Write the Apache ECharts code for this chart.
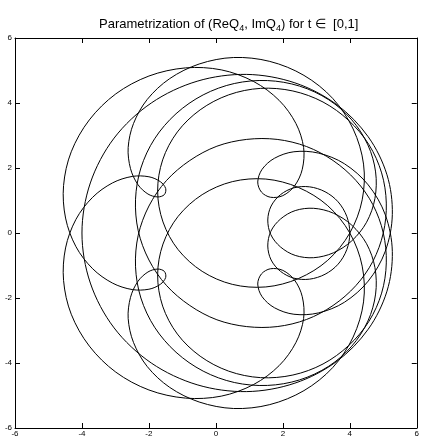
<!DOCTYPE html>
<html>
<head>
<meta charset="utf-8">
<script src="https://cdn.jsdelivr.net/npm/echarts@6/dist/echarts.min.js"></script>
<style>
html,body{margin:0;padding:0;background:#fff;}
#chart{width:422px;height:438px;}
</style>
</head>
<body>
<div id="chart"></div>
<script>
// (ReQ4, ImQ4) for t = 0 .. 0.5, one point every 1/240
var reFirst = [4.00, 3.91, 3.65, 3.26, 2.80, 2.33, 1.93, 1.65, 1.55, 1.64,
  1.93, 2.37, 2.92, 3.51, 4.06, 4.50, 4.75, 4.77, 4.54, 4.06,
  3.37, 2.50, 1.54, 0.55, -0.38, -1.19, -1.83, -2.24, -2.40, -2.32,
  -2.00, -1.48, -0.78, 0.03, 0.92, 1.83, 2.71, 3.50, 4.18, 4.69,
  5.00, 5.09, 4.95, 4.57, 3.97, 3.20, 2.30, 1.33, 0.38, -0.47,
  -1.15, -1.59, -1.74, -1.58, -1.13, -0.41, 0.49, 1.49, 2.47, 3.34,
  4.00, 4.37, 4.41, 4.10, 3.49, 2.63, 1.61, 0.53, -0.50, -1.38,
  -2.05, -2.46, -2.62, -2.55, -2.33, -2.03, -1.74, -1.54, -1.50, -1.66,
  -2.00, -2.50, -3.09, -3.68, -4.18, -4.49, -4.55, -4.32, -3.78, -2.99,
  -2.00, -0.91, 0.16, 1.13, 1.89, 2.39, 2.62, 2.58, 2.35, 2.00,
  1.63, 1.36, 1.25, 1.38, 1.75, 2.33, 3.06, 3.84, 4.55, 5.06,
  5.27, 5.11, 4.55, 3.61, 2.36, 0.92, -0.56, -1.93, -3.04, -3.75,
  -4.00];
var imFirst = [0.00, 0.51, 0.96, 1.27, 1.42, 1.39, 1.18, 0.83, 0.40, -0.05,
  -0.43, -0.69, -0.76, -0.61, -0.24, 0.33, 1.06, 1.88, 2.71, 3.48,
  4.10, 4.52, 4.69, 4.60, 4.25, 3.67, 2.90, 2.00, 1.04, 0.07,
  -0.83, -1.61, -2.23, -2.67, -2.88, -2.88, -2.66, -2.23, -1.62, -0.87,
  0.00, 0.92, 1.85, 2.72, 3.46, 4.03, 4.37, 4.45, 4.25, 3.79,
  3.11, 2.25, 1.29, 0.34, -0.51, -1.18, -1.58, -1.66, -1.40, -0.84,
  0.00, 1.02, 2.12, 3.20, 4.14, 4.85, 5.28, 5.40, 5.20, 4.75,
  4.11, 3.37, 2.63, 1.98, 1.49, 1.20, 1.11, 1.18, 1.37, 1.58,
  1.73, 1.74, 1.54, 1.10, 0.42, -0.46, -1.46, -2.50, -3.48, -4.28,
  -4.83, -5.08, -5.02, -4.66, -4.08, -3.37, -2.63, -1.96, -1.45, -1.15,
  -1.10, -1.26, -1.57, -1.96, -2.30, -2.50, -2.46, -2.13, -1.48, -0.56,
  0.57, 1.79, 2.96, 3.95, 4.62, 4.88, 4.67, 4.00, 2.92, 1.54,
  0.00];
// t = 0.5 .. 1 (the mirror image below the real axis)
var reSecond = [-3.75, -3.04, -1.93, -0.56, 0.92, 2.36, 3.61, 4.55, 5.11, 5.27,
  5.06, 4.55, 3.84, 3.06, 2.33, 1.75, 1.38, 1.25, 1.36, 1.63,
  2.00, 2.35, 2.58, 2.62, 2.39, 1.89, 1.13, 0.16, -0.91, -2.00,
  -2.99, -3.78, -4.32, -4.55, -4.49, -4.18, -3.68, -3.09, -2.50, -2.00,
  -1.66, -1.50, -1.54, -1.74, -2.03, -2.33, -2.55, -2.62, -2.46, -2.05,
  -1.38, -0.50, 0.53, 1.61, 2.63, 3.49, 4.10, 4.41, 4.37, 4.00,
  3.34, 2.47, 1.49, 0.49, -0.41, -1.13, -1.58, -1.74, -1.59, -1.15,
  -0.47, 0.38, 1.33, 2.30, 3.20, 3.97, 4.57, 4.95, 5.09, 5.00,
  4.69, 4.18, 3.50, 2.71, 1.83, 0.92, 0.03, -0.78, -1.48, -2.00,
  -2.32, -2.40, -2.24, -1.83, -1.19, -0.38, 0.55, 1.54, 2.50, 3.37,
  4.06, 4.54, 4.77, 4.75, 4.50, 4.06, 3.51, 2.92, 2.37, 1.93,
  1.64, 1.55, 1.65, 1.93, 2.33, 2.80, 3.26, 3.65, 3.91, 4.00];
var imSecond = [-1.54, -2.92, -4.00, -4.67, -4.88, -4.62, -3.95, -2.96, -1.79, -0.57,
  0.56, 1.48, 2.13, 2.46, 2.50, 2.30, 1.96, 1.57, 1.26, 1.10,
  1.15, 1.45, 1.96, 2.63, 3.37, 4.08, 4.66, 5.02, 5.08, 4.83,
  4.28, 3.48, 2.50, 1.46, 0.46, -0.42, -1.10, -1.54, -1.74, -1.73,
  -1.58, -1.37, -1.18, -1.11, -1.20, -1.49, -1.98, -2.63, -3.37, -4.11,
  -4.75, -5.20, -5.40, -5.28, -4.85, -4.14, -3.20, -2.12, -1.02, 0.00,
  0.84, 1.40, 1.66, 1.58, 1.18, 0.51, -0.34, -1.29, -2.25, -3.11,
  -3.79, -4.25, -4.45, -4.37, -4.03, -3.46, -2.72, -1.85, -0.92, 0.00,
  0.87, 1.62, 2.23, 2.66, 2.88, 2.88, 2.67, 2.23, 1.61, 0.83,
  -0.07, -1.04, -2.00, -2.90, -3.67, -4.25, -4.60, -4.69, -4.52, -4.10,
  -3.48, -2.71, -1.88, -1.06, -0.33, 0.24, 0.61, 0.76, 0.69, 0.43,
  0.05, -0.40, -0.83, -1.18, -1.39, -1.42, -1.27, -0.96, -0.51, 0.00];
var axisTicks = [-6, -4, -2, 0, 2, 4, 6];

var curve = [];
for (var i = 0; i < reFirst.length; i++) curve.push([reFirst[i], imFirst[i]]);
for (var j = 0; j < reSecond.length; j++) curve.push([reSecond[j], imSecond[j]]);

var fontName = 'Liberation Sans, Arial, Helvetica, sans-serif';

function makeAxis(pos, dim, showLabel) {
  return {
    type: 'value', position: pos,
    min: axisTicks[0], max: axisTicks[axisTicks.length - 1], interval: 2,
    axisLine: {show: true, onZero: false, lineStyle: {color: '#000', width: 1}},
    axisTick: {show: true, inside: true, length: 5, lineStyle: {color: '#000'}},
    axisLabel: {show: showLabel, margin: dim == 'x' ? 2 : 3, fontFamily: fontName, fontSize: 8, color: '#000'},
    splitLine: {show: false}
  };
}

// closed curve through the points (pixel positions come from api.coord),
// cubic segments with catmull-rom style tangents, no clamping
function closedPath(px) {
  var n = px.length - 1; // last point repeats the first
  function at(k) { return px[(k + n) % n]; }
  function dist(a, b) { return Math.sqrt((a[0] - b[0]) * (a[0] - b[0]) + (a[1] - b[1]) * (a[1] - b[1])) || 1e-6; }
  var d = 'M' + px[0][0].toFixed(2) + ' ' + px[0][1].toFixed(2);
  for (var k = 0; k < n; k++) {
    var p0 = at(k - 1), p1 = at(k), p2 = at(k + 1), p3 = at(k + 2);
    var l01 = dist(p0, p1), l12 = dist(p1, p2), l23 = dist(p2, p3);
    var f1 = l12 / (3 * (l01 + l12)), f2 = l12 / (3 * (l12 + l23));
    var c1x = p1[0] + (p2[0] - p0[0]) * f1, c1y = p1[1] + (p2[1] - p0[1]) * f1;
    var c2x = p2[0] - (p3[0] - p1[0]) * f2, c2y = p2[1] - (p3[1] - p1[1]) * f2;
    d += 'C' + c1x.toFixed(2) + ' ' + c1y.toFixed(2) + ' ' + c2x.toFixed(2) + ' ' + c2y.toFixed(2) +
      ' ' + p2[0].toFixed(2) + ' ' + p2[1].toFixed(2);
  }
  return d;
}

var myChart = echarts.init(document.getElementById('chart'));
myChart.setOption({
  animation: false,
  backgroundColor: '#fff',
  title: {
    text: 'Parametrization of (ReQ{s|4}, ImQ{s|4}) for t \u2208  [0,1]',
    left: 94, top: 10,
    textStyle: {
      fontFamily: fontName, fontSize: 13, fontWeight: 'normal', color: '#000',
      rich: {s: {fontFamily: fontName, fontSize: 9, color: '#000', padding: [9, 0, 0, 0]}}
    }
  },
  grid: {left: 15, right: 2, top: 38, bottom: 10},
  xAxis: [makeAxis('bottom', 'x', true), makeAxis('top', 'x', false)],
  yAxis: [makeAxis('left', 'y', true), makeAxis('right', 'y', false)],
  series: [{
    type: 'custom', coordinateSystem: 'cartesian2d',
    xAxisIndex: 0, yAxisIndex: 0,
    data: curve, encode: {x: 0, y: 1},
    clip: true, silent: true,
    renderItem: function (params, api) {
      if (params.dataIndex !== 0) return;
      var px = curve.map(function (p) { return api.coord(p); });
      return {
        type: 'path',
        shape: {pathData: closedPath(px)},
        style: {fill: 'none', stroke: '#000', lineWidth: 1}
      };
    }
  }]
});
</script>
</body>
</html>
